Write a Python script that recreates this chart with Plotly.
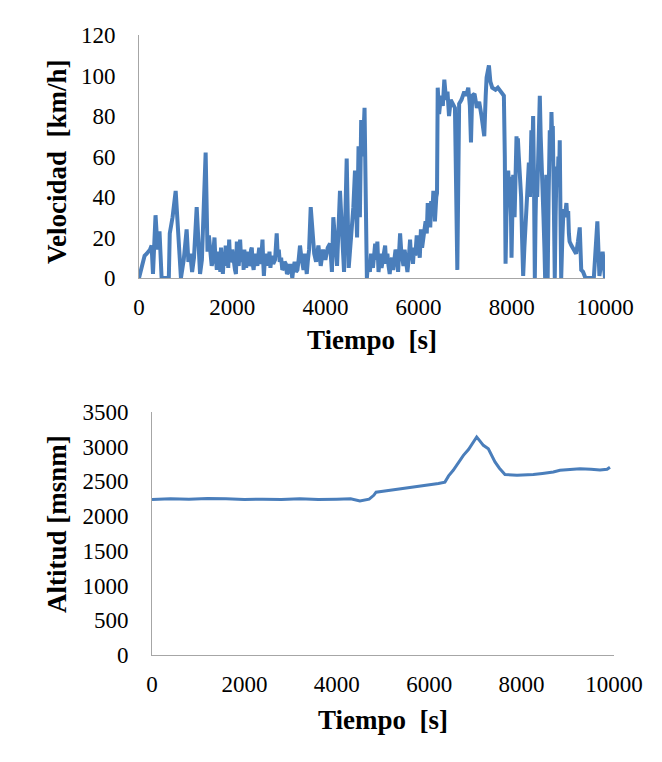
import plotly.graph_objects as go

# ---- Velocidad (top chart), read segment by segment ----
t_arranque = [0, 60, 120, 165, 235, 270, 300, 330, 355, 400,
              440, 485, 640, 660, 720, 787, 840, 900, 960, 1022,
              1060, 1100, 1140, 1180, 1238, 1310, 1350, 1430, 1470, 1500]
v_arranque = [0, 6, 11, 12, 14, 16, 2, 18, 31, 14,
              23, 0, 0, 22, 30, 43, 22, 0, 9, 24,
              8, 12, 3, 10, 35, 2, 9, 62, 13, 21]

t_urbano = [1540, 1560, 1580, 1600, 1620, 1640, 1650, 1670, 1690, 1710,
            1730, 1745, 1760, 1780, 1800, 1820, 1840, 1860, 1880, 1900,
            1915, 1935, 1955, 1980, 2000, 2020, 2040, 2060, 2080, 2100,
            2120, 2140, 2155, 2170, 2190, 2210, 2230, 2245, 2260, 2280,
            2300, 2320, 2340, 2360, 2390, 2405, 2420, 2440, 2460, 2480,
            2500, 2520, 2540, 2560, 2580, 2600, 2620, 2635, 2650, 2665,
            2680, 2700, 2720, 2740, 2760, 2780, 2800, 2820, 2850, 2880,
            2920, 2955, 2975, 3000, 3020, 3050, 3075, 3100, 3125, 3150,
            3175, 3200, 3225, 3250, 3270, 3290, 3315, 3340, 3370, 3400,
            3430, 3455, 3480, 3500, 3530, 3560, 3580, 3600, 3625, 3650]
v_urbano = [11, 6, 8, 14, 20, 9, 10, 4, 13, 7,
            9, 3, 15, 8, 2, 10, 6, 16, 7, 12,
            5, 19, 8, 9, 14, 11, 6, 4, 2, 18,
            9, 6, 12, 19, 10, 8, 13, 4, 14, 9,
            5, 11, 13, 6, 8, 14, 15, 7, 4, 10,
            12, 8, 6, 11, 15, 7, 9, 14, 19, 8,
            1, 9, 12, 6, 10, 8, 13, 5, 11, 7,
            9, 22, 12, 14, 8, 10, 4, 5, 8, 7,
            2, 3, 6, 6, 2, 0, 5, 8, 3, 4,
            10, 16, 11, 8, 4, 12, 7, 2, 9, 14]

t_picos = [3685, 3720, 3760, 3800, 3850, 3900, 3950, 4000, 4050, 4100,
           4140, 4170, 4210, 4250, 4313, 4360, 4400, 4457, 4500, 4550,
           4600, 4635, 4680, 4711, 4740, 4768, 4800, 4840, 4870, 4890]
v_picos = [35, 25, 12, 8, 16, 6, 14, 9, 15, 17,
           3, 30, 20, 6, 43, 25, 3, 59, 5, 20,
           35, 53, 20, 65, 30, 78, 60, 84, 40, 0]

t_subida = [4910, 4930, 4955, 4980, 5000, 5020, 5045, 5068, 5090, 5115,
            5140, 5160, 5180, 5205, 5230, 5255, 5282, 5305, 5330, 5355,
            5380, 5405, 5430, 5455, 5480, 5505, 5530, 5560, 5580, 5603,
            5625, 5650, 5675, 5700, 5730, 5760, 5790, 5817, 5840, 5860,
            5880, 5900, 5930, 5960, 5980, 6000, 6025, 6050, 6075, 6100,
            6125, 6150, 6175, 6196, 6215, 6230, 6250, 6270, 6295, 6317,
            6335, 6350, 6380, 6395]
v_subida = [6, 8, 3, 12, 7, 5, 11, 17, 9, 18,
            3, 9, 12, 5, 8, 13, 16, 7, 12, 6,
            2, 8, 10, 4, 8, 14, 12, 3, 12, 22,
            14, 10, 6, 14, 9, 3, 10, 19, 9, 12,
            7, 15, 11, 21, 13, 16, 10, 24, 15, 20,
            26, 28, 22, 37, 27, 30, 25, 38, 32, 43,
            36, 28, 40, 42]

t_carretera = [6410, 6440, 6480, 6520, 6552, 6590, 6620, 6653, 6690, 6730,
               6780, 6831, 6870, 6920, 6980, 7020, 7066, 7100, 7124, 7150,
               7200, 7250, 7300, 7350, 7409, 7440, 7459, 7509, 7540, 7580,
               7650, 7700, 7780, 7830]
v_carretera = [94, 81, 90, 85, 98, 88, 92, 80, 88, 86,
               84, 4, 86, 88, 92, 90, 94, 85, 67, 90,
               91, 84, 87, 80, 70, 90, 99, 105, 97, 94,
               93, 94, 91, 90]

t_final = [7850, 7866, 7885, 7900, 7923, 7940, 7960, 7980, 7994, 8010,
           8030, 8045, 8060, 8080, 8101, 8115, 8130, 8150, 8170, 8185,
           8200, 8220, 8244, 8270, 8300, 8330, 8366, 8390, 8420, 8440,
           8458, 8475, 8494, 8510, 8530, 8545, 8560, 8580, 8601, 8620,
           8640, 8660, 8680, 8700, 8715, 8730, 8740, 8755, 8770, 8790,
           8815, 8835, 8851, 8865, 8880, 8900, 8922, 8940, 8960, 8980,
           9000, 9015, 9029, 9045, 9060, 9085, 9110, 9140, 9172, 9190,
           9210, 9225, 9240, 9280, 9320, 9380, 9420, 9458, 9490, 9530,
           9580, 9760, 9836, 9880, 9950, 10000]
v_final = [60, 7, 30, 40, 53, 45, 50, 35, 10, 30,
           51, 48, 30, 55, 70, 62, 69, 60, 51, 45,
           40, 20, 1, 15, 31, 45, 57, 40, 73, 60,
           80, 50, 0, 30, 53, 40, 60, 75, 90, 70,
           51, 45, 30, 15, 0, 35, 51, 20, 0, 40,
           73, 60, 82, 70, 75, 40, 0, 30, 55, 45,
           60, 50, 68, 30, 0, 20, 34, 30, 37, 30,
           33, 22, 18, 16, 14, 12, 18, 25, 4, 3,
           0, 0, 28, 1, 13, 0]

tiempo_v = t_arranque + t_urbano + t_picos + t_subida + t_carretera + t_final
velocidad = v_arranque + v_urbano + v_picos + v_subida + v_carretera + v_final

# ---- Altitud (bottom chart) ----
tiempo_a = [0, 400, 800, 1200, 1600, 2000, 2400, 2800, 3200, 3600, 4000, 4300, 4500, 4700, 4800, 4850, 5000,
            5400, 5800, 6000, 6200, 6340, 6420, 6520, 6620, 6740, 6850, 6950, 7028, 7100, 7172, 7280, 7350,
            7424, 7520, 7640, 7900, 8100, 8254, 8450, 8687, 8831, 9000, 9264, 9500, 9697, 9850, 9913]
altitud = [2240, 2250, 2245, 2255, 2250, 2240, 2245, 2240, 2250, 2240, 2245, 2250, 2220, 2245, 2300, 2345, 2360,
           2395, 2430, 2450, 2470, 2490, 2580, 2660, 2760, 2876, 2960, 3060, 3140, 3080, 3020, 2970, 2880,
           2780, 2690, 2600, 2590, 2595, 2600, 2615, 2636, 2660, 2670, 2684, 2675, 2665, 2675, 2705]

x_ticks = [0, 2000, 4000, 6000, 8000, 10000]
x_ticktext = ["0", "2000", "4000", "6000", "8000", "10000"]
y_ticks_v = [0, 20, 40, 60, 80, 100, 120]
y_ticks_a = [0, 500, 1000, 1500, 2000, 2500, 3000, 3500]

LINE = "#4a7ebb"
AXIS = "#a6a6a6"
FONT = "Times New Roman, Liberation Serif, DejaVu Serif, serif"
W, H = 662, 762

fig = go.Figure()
fig.add_trace(go.Scatter(x=tiempo_v, y=velocidad, mode="lines",
                         line=dict(color=LINE, width=4), xaxis="x", yaxis="y", showlegend=False))
fig.add_trace(go.Scatter(x=tiempo_a, y=altitud, mode="lines",
                         line=dict(color=LINE, width=3), xaxis="x2", yaxis="y2", showlegend=False))

tick_font = dict(family=FONT, size=23, color="#000000")
common_x = dict(showgrid=False, zeroline=False, showline=True, linecolor=AXIS, linewidth=1, automargin=False,
                ticks="", tickvals=x_ticks, ticktext=x_ticktext, tickfont=tick_font, range=[0, 10000],
                ticklabelstandoff=8)
common_y = dict(showgrid=False, zeroline=False, showline=True, linecolor=AXIS, linewidth=1, automargin=False,
                ticks="", tickfont=tick_font, ticklabelstandoff=18)

fig.update_layout(
    width=W, height=H, margin=dict(l=0, r=0, t=0, b=0, autoexpand=False),
    paper_bgcolor="white", plot_bgcolor="white",
    font=dict(family=FONT),
    xaxis=dict(domain=[139 / W, 605 / W], anchor="y", **common_x),
    yaxis=dict(domain=[1 - 278 / H, 1 - 35 / H], anchor="x", range=[0, 120], tickvals=y_ticks_v, **common_y),
    xaxis2=dict(domain=[152 / W, 614 / W], anchor="y2", **common_x),
    yaxis2=dict(domain=[1 - 655 / H, 1 - 412 / H], anchor="x2", range=[0, 3500], tickvals=y_ticks_a, **common_y),
)

title_font = dict(family=FONT, size=27, color="#000000")
ann = [
    dict(text="<b>Velocidad  [km/h]</b>", x=57, y=162, textangle=-90),
    dict(text="<b>Tiempo  [s]</b>", x=372, y=340, textangle=0),
    dict(text="<b>Altitud [msnm]</b>", x=57, y=524, textangle=-90),
    dict(text="<b>Tiempo  [s]</b>", x=383, y=720, textangle=0),
]
for a in ann:
    fig.add_annotation(text=a["text"], x=a["x"] / W, y=1 - a["y"] / H, xref="paper", yref="paper",
                       xanchor="center", yanchor="middle", textangle=a["textangle"],
                       showarrow=False, font=title_font)

fig.write_html("out.html")
